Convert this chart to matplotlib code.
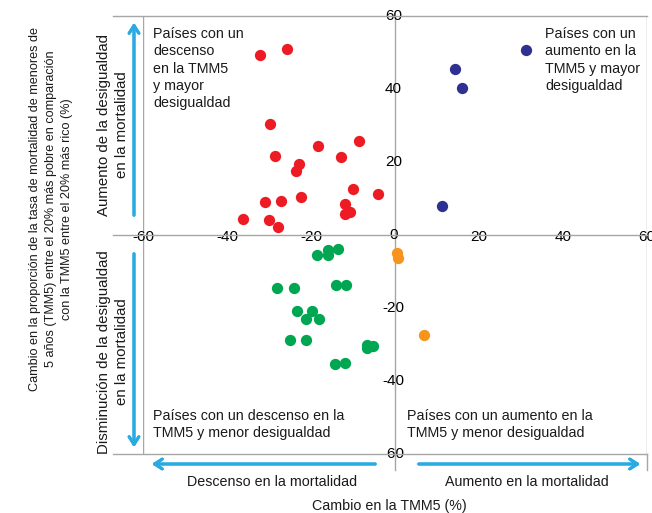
"""Quadrant scatter: change in U5MR vs change in rich/poor ratio."""

import matplotlib
matplotlib.use("Agg")
import matplotlib.pyplot as plt
from matplotlib.lines import Line2D

plt.rcParams["font.family"] = ["Liberation Sans", "DejaVu Sans"]

# data
red_x = [-32.1, -25.8, -29.8, -18.3, -8.5, -28.6, -22.8, -23.6, -12.9, -9.9,
         -4.0, -22.5, -27.2, -31.0, -11.9, -10.6, -11.9, -36.3, -29.9, -27.9]
red_y = [49.3, 50.9, 30.4, 24.4, 25.8, 21.6, 19.4, 17.5, 21.3, 12.6,
         11.1, 10.5, 9.3, 9.0, 8.5, 6.2, 5.7, 4.3, 4.1, 2.1]
blue_x = [31.2, 14.4, 16.0, 11.3]
blue_y = [50.7, 45.5, 40.4, 7.9]
green_x = [-16.0, -13.5, -18.6, -15.9, -14.0, -11.7, -28.2, -24.0, -23.4, -19.8,
           -21.3, -18.1, -25.0, -21.2, -6.7, -5.3, -6.6, -14.3, -11.9]
green_y = [-4.1, -3.9, -5.5, -5.5, -13.7, -13.7, -14.4, -14.4, -20.8, -20.8,
           -23.1, -22.9, -28.8, -28.8, -30.1, -30.3, -31.0, -35.3, -35.2]
orange_x = [0.4, 0.8, 6.9]
orange_y = [-5.0, -6.4, -27.4]

ticks = [-60, -40, -20, 0, 20, 40, 60]
tick_labels = ["-60", "-40", "-20", "0", "20", "40", "60"]

GRAY = "#a6a6a6"
ARROW = "#29abe2"
W, H = 652, 513


def fx(px):
    return px / W


def fy(py):
    return 1 - py / H


fig = plt.figure(figsize=(6.52, 5.13), dpi=100)
ax = fig.add_axes([fx(143), fy(454), fx(647) - fx(143), fy(16) - fy(454)])
ax.set_xlim(-60, 60)
ax.set_ylim(-60, 60)
ax.axis("off")

# frame and cross axes
for x in (-60, 60):
    ax.axvline(x, color=GRAY, lw=1.0, zorder=1)
ax.axvline(0, color=GRAY, lw=1.0, zorder=1)
for py in (16, 235, 454):
    fig.add_artist(Line2D([fx(113), fx(647)], [fy(py), fy(py)], color=GRAY, lw=1.0))
fig.add_artist(Line2D([fx(395), fx(395)], [fy(454), fy(470)], color=GRAY, lw=1.0))
fig.add_artist(Line2D([fx(647), fx(647)], [fy(454), fy(470)], color=GRAY, lw=1.0))

# points
ms = 66
ax.scatter(red_x, red_y, s=ms, color="#ed1c24", linewidths=0, zorder=3)
ax.scatter(blue_x, blue_y, s=ms, color="#2e3192", linewidths=0, zorder=3)
ax.scatter(green_x, green_y, s=ms, color="#00a651", linewidths=0, zorder=3)
ax.scatter(orange_x, orange_y, s=ms, color="#f7941d", linewidths=0, zorder=3)

# tick labels centred on the axis lines
for t, lab in zip(ticks, tick_labels):
    if t != 0:
        ax.text(t, -0.5, lab, ha="center", va="center", fontsize=11,
                clip_on=False, zorder=2)
    ax.text(-0.4, t, lab, ha="center", va="center", fontsize=11,
            clip_on=False, zorder=2)

# quadrant notes
qkw = dict(fontsize=10.3, linespacing=1.3, color="#1a1a1a")
ax.text(-57.6, 57.0, "Países con un\ndescenso\nen la TMM5\ny mayor\ndesigualdad",
        ha="left", va="top", **qkw)
ax.text(35.7, 57.0, "Países con un\naumento en la\nTMM5 y mayor\ndesigualdad",
        ha="left", va="top", **qkw)
ax.text(-57.6, -47.6, "Países con un descenso en la\nTMM5 y menor desigualdad",
        ha="left", va="top", **qkw)
ax.text(2.9, -47.6, "Países con un aumento en la\nTMM5 y menor desigualdad",
        ha="left", va="top", **qkw)

# blue direction arrows
akw = dict(arrowstyle="->,head_length=0.55,head_width=0.35", lw=2.2, color=ARROW)
fig.add_artist(plt.annotate("", xy=(fx(134), fy(20)), xytext=(fx(134), fy(218)),
                            xycoords="figure fraction", arrowprops=akw))
fig.add_artist(plt.annotate("", xy=(fx(134), fy(450)), xytext=(fx(134), fy(251)),
                            xycoords="figure fraction", arrowprops=akw))
fig.add_artist(plt.annotate("", xy=(fx(149), fy(464)), xytext=(fx(378), fy(464)),
                            xycoords="figure fraction", arrowprops=akw))
fig.add_artist(plt.annotate("", xy=(fx(643), fy(464)), xytext=(fx(416), fy(464)),
                            xycoords="figure fraction", arrowprops=akw))

# side and bottom labels
lkw = dict(ha="center", va="center", color="#1a1a1a")
fig.text(fx(113), fy(125), "Aumento de la desigualdad\nen la mortalidad",
         rotation=90, fontsize=10.8, linespacing=1.35, **lkw)
fig.text(fx(113), fy(352), "Disminución de la desigualdad\nen la mortalidad",
         rotation=90, fontsize=10.8, linespacing=1.35, **lkw)
fig.text(fx(51), fy(209),
         "Cambio en la proporción de la tasa de mortalidad de menores de\n"
         "5 años (TMM5) entre el 20% más pobre en comparación\n"
         "con la TMM5 entre el 20% más rico (%)",
         rotation=90, fontsize=9.1, linespacing=1.42, **lkw)
fig.text(fx(272), fy(482), "Descenso en la mortalidad", fontsize=10.3, **lkw)
fig.text(fx(527), fy(482), "Aumento en la mortalidad", fontsize=10.3, **lkw)
fig.text(fx(389), fy(506), "Cambio en la TMM5 (%)", fontsize=10.3, **lkw)

fig.savefig("out.png", dpi=100)
